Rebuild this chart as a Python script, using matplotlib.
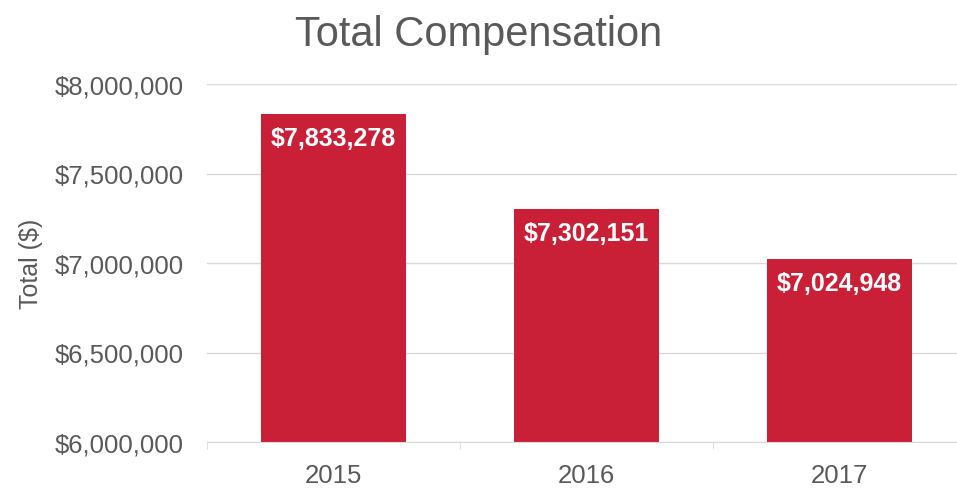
import matplotlib.pyplot as plt
from matplotlib.ticker import FuncFormatter, FixedLocator

plt.rcParams['font.family'] = ['Liberation Sans', 'DejaVu Sans']

years = ['2015', '2016', '2017']
totals = [7833278, 7302151, 7024948]

grey = '#595959'
red = '#C91F37'

fig = plt.figure(figsize=(9.57, 4.89), dpi=100)
ax = fig.add_axes([207 / 957, 46 / 489, 759 / 957, 358 / 489])

x = range(len(years))
bars = ax.bar(x, totals, width=0.57, color=red, zorder=2)

ax.set_ylim(6000000, 8000000)
ax.set_xlim(-0.5, 2.5)
ax.yaxis.set_major_formatter(FuncFormatter(lambda v, p: '${:,.0f}'.format(v)))
ax.set_yticks([6000000, 6500000, 7000000, 7500000, 8000000])
ax.set_xticks(list(x))
ax.set_xticklabels(years)
ax.xaxis.set_minor_locator(FixedLocator([-0.5, 0.5, 1.5, 2.5]))

ax.grid(axis='y', color='#d9d9d9', linewidth=1, zorder=0)
for s in ['top', 'right', 'left']:
    ax.spines[s].set_visible(False)
ax.spines['bottom'].set_color('#d9d9d9')
ax.tick_params(axis='y', length=0, labelsize=18.5, labelcolor=grey, pad=17)
ax.tick_params(axis='x', which='major', length=0, labelsize=18.5, labelcolor=grey, pad=15)
ax.tick_params(axis='x', which='minor', length=5, color='#d9d9d9')

ax.set_ylabel('Total ($)', fontsize=18, color=grey, labelpad=8)
fig.text(0.5, 0.928, 'Total Compensation', ha='center', va='center',
         fontsize=30, color=grey)

for b, v in zip(bars, totals):
    ax.annotate('${:,}'.format(v), (b.get_x() + b.get_width() / 2, v),
                xytext=(0, -9), textcoords='offset points', ha='center', va='top',
                color='white', fontsize=18, fontweight='bold')

fig.savefig('out.png', dpi=100)
